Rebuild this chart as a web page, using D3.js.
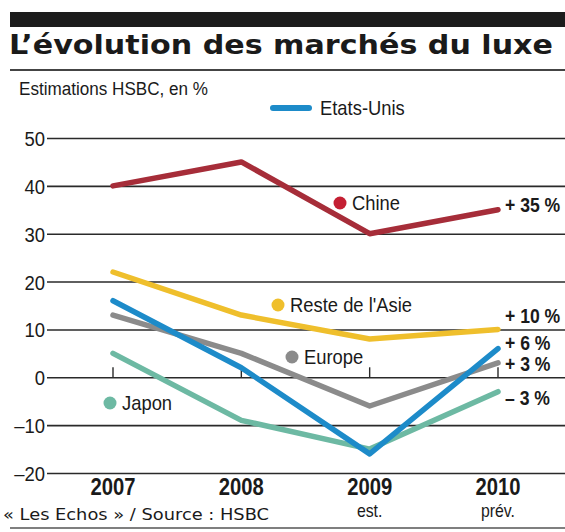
<!DOCTYPE html>
<html>
<head>
<meta charset="utf-8">
<script src="https://cdn.jsdelivr.net/npm/d3@7"></script>
<style>
    body { margin: 0; background: #fff; }
    svg { display: block; }
    .narrow { font-family: 'Liberation Sans', Arial, sans-serif; fill: #1a1a1a; }
</style>
</head>
<body>
<div id="chart"></div>
<script>
// DATA

const years = ['2007', '2008', '2009', '2010'];
const year_notes = ['', '', 'est.', 'prév.'];
const y_ticks = [50, 40, 30, 20, 10, 0, -10, -20];

const chine = [40, 45, 30, 35];
const asie = [22, 13, 8, 10];
const etats_unis = [16, 2, -16, 6];
const europe = [13, 5, -6, 3];
const japon = [5, -9, -15, -3];

const end_labels = ['+ 35 %', '+ 10 %', '+ 6 %', '+ 3 %', '\u2013 3 %'];

//////////////////////////////////////////////

const width = 565,
    height = 532;

const sx = 0.88; // horizontal squeeze to fake a condensed face

const series = [
    { name: 'Japon', values: japon, color: '#6db9a3', dot: '#6db9a3', label: [110, 403], end: 4, dy: 13 },
    { name: 'Europe', values: europe, color: '#8b8b8b', dot: '#8b8b8b', label: [292, 357], end: 3, dy: 8 },
    { name: 'Etats-Unis', values: etats_unis, color: '#1d8bc9', dot: null, label: null, end: 2, dy: 1 },
    { name: "Reste de l'Asie", values: asie, color: '#efbf2c', dot: '#efbf2c', label: [278, 305], end: 1, dy: -6 },
    { name: 'Chine', values: chine, color: '#a62d39', dot: '#c41f33', label: [340, 203], end: 0, dy: 2 }
];

const place = (x, y, s = sx) => `translate(${x}, ${y}) scale(${s}, 1)`;

const svg = d3.select('#chart')
    .append('svg')
    .attr('width', width)
    .attr('height', height);

// HEADER

svg.append('rect')
    .attr('x', 10).attr('y', 12)
    .attr('width', width - 10).attr('height', 15)
    .attr('fill', '#1c1c1c');

svg.append('text')
    .attr('x', 9)
    .attr('y', 54)
    .attr('textLength', 544)
    .attr('lengthAdjust', 'spacingAndGlyphs')
    .style('font-family', "'DejaVu Sans', Verdana, sans-serif")
    .style('font-weight', 'bold')
    .style('font-size', '27px')
    .style('fill', '#1a1a1a')
    .text("L\u2019\u00e9volution des march\u00e9s du luxe");

svg.append('line')
    .attr('x1', 10).attr('x2', width)
    .attr('y1', 70).attr('y2', 70)
    .attr('stroke', '#444')
    .attr('stroke-width', 2);

svg.append('text')
    .attr('class', 'narrow')
    .attr('x', 19)
    .attr('y', 95)
    .attr('textLength', 189)
    .attr('lengthAdjust', 'spacingAndGlyphs')
    .style('font-size', '18px')
    .text('Estimations HSBC, en %');

// SCALES

const x_scale = d3.scalePoint()
    .domain(years)
    .range([113, 498]);

const y_scale = d3.scaleLinear()
    .domain([-20, 50])
    .range([473, 138]);

// GRID + Y AXIS

const y_axis = d3.axisLeft(y_scale)
    .tickValues(y_ticks)
    .tickSize(-(width - 47))
    .tickFormat((d) => d < 0 ? `\u2013${-d}` : `${d}`);

const gy = svg.append('g')
    .attr('transform', 'translate(47, 0)')
    .call(y_axis);

gy.select('.domain').remove();
gy.selectAll('.tick line')
    .attr('stroke', '#2a2a2a')
    .attr('stroke-width', 1.6);
gy.selectAll('.tick text')
    .attr('class', 'narrow')
    .attr('x', 0)
    .attr('dy', '0.36em')
    .attr('transform', place(-2, 0))
    .style('font-size', '21px');

// small year ticks on the zero line
svg.append('g')
    .selectAll('line')
    .data(years)
    .enter()
    .append('line')
    .attr('x1', (d) => x_scale(d))
    .attr('x2', (d) => x_scale(d))
    .attr('y1', y_scale(0))
    .attr('y2', y_scale(0) - 10)
    .attr('stroke', '#2a2a2a')
    .attr('stroke-width', 1.4);

// X LABELS

const gx = svg.append('g');

gx.selectAll('text.year')
    .data(years)
    .enter()
    .append('text')
    .attr('class', 'narrow year')
    .attr('transform', (d) => place(x_scale(d), 495))
    .style('text-anchor', 'middle')
    .style('font-size', '23px')
    .style('font-weight', 'bold')
    .text((d) => d);

gx.selectAll('text.note')
    .data(years)
    .enter()
    .append('text')
    .attr('class', 'narrow note')
    .attr('transform', (d) => place(x_scale(d), 517))
    .style('text-anchor', 'middle')
    .style('font-size', '18px')
    .text((d, i) => year_notes[i]);

// LINES

const line = d3.line()
    .x((d, i) => x_scale(years[i]))
    .y((d) => y_scale(d));

svg.append('g')
    .selectAll('path')
    .data(series)
    .enter()
    .append('path')
    .attr('d', (d) => line(d.values))
    .attr('fill', 'none')
    .attr('stroke', (d) => d.color)
    .attr('stroke-width', 5.5)
    .attr('stroke-linejoin', 'round')
    .attr('stroke-linecap', 'round');

// SERIES LABELS

const labelled = series.filter((d) => d.label);

svg.append('g')
    .selectAll('circle')
    .data(labelled)
    .enter()
    .append('circle')
    .attr('cx', (d) => d.label[0])
    .attr('cy', (d) => d.label[1])
    .attr('r', 6.5)
    .attr('fill', (d) => d.dot);

svg.append('g')
    .selectAll('text')
    .data(labelled)
    .enter()
    .append('text')
    .attr('class', 'narrow')
    .attr('transform', (d) => place(d.label[0] + 12, d.label[1] + 7, 0.92))
    .style('font-size', '20px')
    .text((d) => d.name);

// legend for Etats-Unis
svg.append('path')
    .attr('d', 'M273,108 L309,108')
    .attr('stroke', '#1d8bc9')
    .attr('stroke-width', 6)
    .attr('stroke-linecap', 'round');

svg.append('text')
    .attr('class', 'narrow')
    .attr('transform', place(320, 115, 0.92))
    .style('font-size', '20px')
    .text('Etats-Unis');

// END VALUES

svg.append('g')
    .selectAll('text')
    .data(series)
    .enter()
    .append('text')
    .attr('class', 'narrow')
    .attr('transform', (d) => place(505, y_scale(d.values[d.values.length - 1]) + d.dy))
    .style('font-size', '20px')
    .style('font-weight', 'bold')
    .text((d) => end_labels[d.end]);

// FOOTER

svg.append('text')
    .attr('x', 3)
    .attr('y', 520)
    .attr('textLength', 266)
    .attr('lengthAdjust', 'spacingAndGlyphs')
    .style('font-family', "'DejaVu Sans', Verdana, sans-serif")
    .style('font-size', '16px')
    .style('fill', '#1a1a1a')
    .text('\u00ab Les Echos \u00bb / Source : HSBC');

svg.append('line')
    .attr('x1', 10).attr('x2', width)
    .attr('y1', 528).attr('y2', 528)
    .attr('stroke', '#555')
    .attr('stroke-width', 1.5);
</script>
</body>
</html>
